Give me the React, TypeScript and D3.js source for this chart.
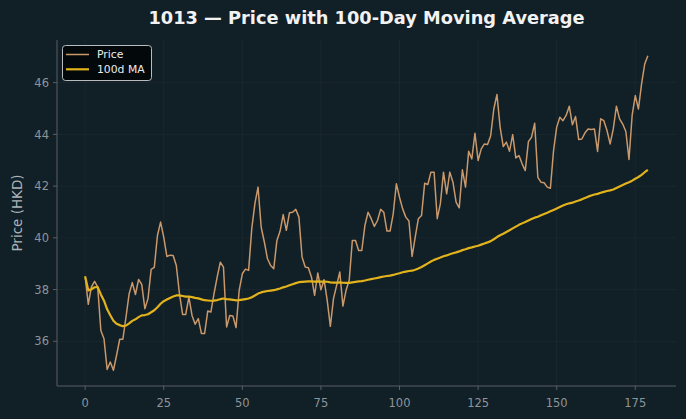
import React from "react";
import * as d3 from "d3";

// daily closing prices, HKD
const price = [
  38.51, 37.43, 38.1, 38.32, 38.1, 36.42, 36.1, 34.91, 35.2, 34.88,
  35.46, 36.08, 36.08, 36.94, 37.84, 38.27, 37.81, 38.39, 38.2, 37.26,
  37.65, 38.78, 38.86, 40.09, 40.61, 40.03, 39.28, 39.33, 39.32, 38.93,
  37.84, 37.04, 37.04, 37.71, 37.0, 36.66, 36.88, 36.3, 36.3, 37.17,
  37.13, 37.84, 38.48, 39.06, 38.87, 36.55, 37.0, 36.98, 36.53, 37.97,
  38.61, 38.79, 38.74, 40.35, 41.32, 41.96, 40.41, 39.84, 39.19, 38.93,
  38.81, 39.9, 40.25, 40.9, 40.29, 40.97, 40.99, 41.1, 40.8, 39.26,
  38.87, 38.84, 38.48, 37.78, 38.64, 37.99, 38.38, 37.58, 36.58, 37.65,
  38.16, 38.68, 37.36, 37.97, 38.36, 39.9, 39.9, 39.51, 39.51, 40.48,
  40.99, 40.74, 40.44, 40.67, 41.1, 40.99, 40.26, 40.26, 40.93, 42.09,
  41.57, 41.12, 40.8, 40.65, 39.28, 40.03, 40.74, 40.86, 42.11, 42.06,
  42.54, 42.54, 40.74, 41.32, 42.54, 41.7, 42.54, 42.15, 41.38, 41.16,
  42.63, 41.96, 43.35, 43.05, 44.04, 42.99, 43.44, 43.63, 43.61, 43.95,
  44.98, 45.54, 44.28, 43.53, 43.7, 43.35, 43.99, 43.09, 43.18, 42.86,
  42.6, 43.72, 43.89, 44.43, 42.34, 42.15, 42.13, 41.96, 41.92, 43.37,
  44.28, 44.66, 44.53, 44.73, 45.09, 44.37, 44.69, 43.8, 43.82, 44.06,
  44.21, 44.19, 44.21, 43.34, 44.6, 44.53, 44.15, 43.63, 44.21, 45.09,
  44.6, 44.4, 44.11, 43.03, 44.73, 45.5, 44.98, 45.95, 46.72, 47.04,
];

const maWindow = 100;
const xTicks = [0, 25, 50, 75, 100, 125, 150, 175];
const yTicks = [36, 38, 40, 42, 44, 46];
const seriesNames = ["Price", "100d MA"];

const W = 686;
const H = 419;
const margin = { top: 40, right: 10, bottom: 33, left: 57 };

const BG = "#111f26";
const GRID = "#1c2a31";
const SPINE = "#5a5f62";
const TICK_TEXT = "#8d959a";
const PRICE_COLOR = "#c9986b";
const MA_COLOR = "#e2b31c";
const FONT = "DejaVu Sans";

export default function App() {
  const days = d3.range(price.length);
  // rolling mean, shorter window at the start
  const ma = days.map((i) => d3.mean(price.slice(Math.max(0, i - maWindow + 1), i + 1)) as number);

  const pad = (price.length - 1) * 0.05;
  const x = d3
    .scaleLinear()
    .domain([-pad, price.length - 1 + pad])
    .range([margin.left, W - margin.right]);

  const [lo, hi] = d3.extent(price) as [number, number];
  const yPad = (hi - lo) * 0.05;
  const y = d3
    .scaleLinear()
    .domain([lo - yPad, hi + yPad])
    .range([H - margin.bottom, margin.top]);

  const line = d3
    .line<number>()
    .x((_, i) => x(i))
    .y((d) => y(d));

  const x0 = margin.left;
  const x1 = W - margin.right;
  const y0 = H - margin.bottom;
  const y1 = margin.top;

  return (
    <svg
      width={W}
      height={H}
      style={{ position: "absolute", left: 0, top: 0, display: "block" }}
      fontFamily={FONT}
    >
      <rect width={W} height={H} fill={BG} />

      {/* grid */}
      {xTicks.map((t) => (
        <line key={"gx" + t} x1={x(t)} x2={x(t)} y1={y1} y2={y0} stroke={GRID} strokeWidth={0.8} />
      ))}
      {yTicks.map((t) => (
        <line key={"gy" + t} x1={x0} x2={x1} y1={y(t)} y2={y(t)} stroke={GRID} strokeWidth={0.8} />
      ))}

      {/* series */}
      <path d={line(price) ?? ""} fill="none" stroke={PRICE_COLOR} strokeWidth={1.5} strokeLinejoin="round" />
      <path d={line(ma) ?? ""} fill="none" stroke={MA_COLOR} strokeWidth={2.2} strokeLinejoin="round" />

      {/* spines */}
      <line x1={x0} x2={x0} y1={y1} y2={y0} stroke={SPINE} strokeWidth={1} />
      <line x1={x0} x2={x1} y1={y0} y2={y0} stroke={SPINE} strokeWidth={1} />

      {/* x axis */}
      {xTicks.map((t) => (
        <g key={"xt" + t}>
          <line x1={x(t)} x2={x(t)} y1={y0} y2={y0 + 4} stroke={SPINE} />
          <text x={x(t)} y={y0 + 21} textAnchor="middle" fontSize={11.5} fill={TICK_TEXT}>
            {t}
          </text>
        </g>
      ))}

      {/* y axis */}
      {yTicks.map((t) => (
        <g key={"yt" + t}>
          <line x1={x0 - 4} x2={x0} y1={y(t)} y2={y(t)} stroke={SPINE} />
          <text x={x0 - 8} y={y(t)} dy="0.36em" textAnchor="end" fontSize={11.5} fill={TICK_TEXT}>
            {t}
          </text>
        </g>
      ))}

      <text
        transform={`translate(22,${(y0 + y1) / 2}) rotate(-90)`}
        textAnchor="middle"
        fontSize={13.5}
        fill="#aab3b8"
      >
        Price (HKD)
      </text>

      <text x={(x0 + x1) / 2} y={24} textAnchor="middle" fontSize={17.8} fontWeight="bold" fill="#f2f2f2">
        1013 — Price with 100-Day Moving Average
      </text>

      {/* legend */}
      <g>
        <rect x={62.5} y={45.5} width={89} height={35} rx={3} fill="#03080a" stroke="#b8bcbe" strokeWidth={1} />
        {seriesNames.map((name, i) => (
          <g key={name} transform={`translate(0,${54.5 + i * 14.8})`}>
            <line x1={66} x2={89} y1={0} y2={0} stroke={i === 0 ? PRICE_COLOR : MA_COLOR} strokeWidth={i === 0 ? 1.5 : 2.2} />
            <text x={97} y={0} dy="0.36em" fontSize={10.8} fill="#ececec">
              {name}
            </text>
          </g>
        ))}
      </g>
    </svg>
  );
}
